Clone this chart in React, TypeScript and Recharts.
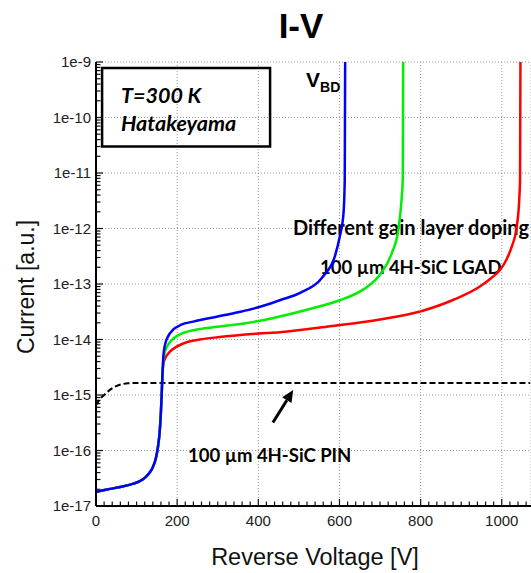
import { CartesianGrid, Line, LineChart, ReferenceArea, ReferenceLine, XAxis, YAxis } from 'recharts';

const W = 531;
const H = 573;

const ARIAL = '"Liberation Sans", Arial, sans-serif';
const CALIBRI = 'Lato, "Open Sans", sans-serif';

// turn-on region, common to the three LGAD curves
const onsetV = [0, 30, 60, 90, 115, 130, 140, 148, 153, 157, 160, 162, 164];
const onsetI = [1.8e-17, 2.0e-17, 2.2e-17, 2.5e-17, 3e-17, 3.8e-17, 5e-17, 7.5e-17, 1.2e-16, 2.2e-16, 5e-16, 1.1e-15, 2.5e-15];

// highest gain layer doping -> lowest breakdown
const blueV = [166, 170, 178, 190, 210, 240, 300, 350, 400, 453, 503, 560, 589, 601, 610, 613, 614];
const blueI = [5e-15, 8e-15, 1.15e-14, 1.5e-14, 1.85e-14, 2.1e-14, 2.6e-14, 3.1e-14, 3.8e-14, 5.1e-14, 6.9e-14, 1.38e-13, 3.2e-13, 7.3e-13, 1.9e-12, 7.6e-12, 1e-9];

const greenV = [166, 170, 180, 195, 220, 256, 300, 400, 453, 536, 601, 659, 700, 729, 745, 753, 756, 757];
const greenI = [4.2e-15, 6e-15, 8.5e-15, 1.1e-14, 1.35e-14, 1.55e-14, 1.7e-14, 2.15e-14, 2.6e-14, 3.7e-14, 5.1e-14, 8e-14, 1.48e-13, 3.6e-13, 9.5e-13, 3.3e-12, 7.6e-12, 1e-9];

const redV = [166, 170, 180, 200, 225, 256, 300, 400, 453, 577, 700, 799, 881, 947, 975, 996, 1012, 1025, 1037, 1043, 1045, 1046];
const redI = [3.6e-15, 4.5e-15, 5.8e-15, 7.5e-15, 9e-15, 1e-14, 1.1e-14, 1.28e-14, 1.35e-14, 1.73e-14, 2.3e-14, 3.2e-14, 5.2e-14, 9.1e-14, 1.3e-13, 1.8e-13, 2.8e-13, 4.8e-13, 1.1e-12, 3.3e-12, 7.6e-12, 1e-9];

// PIN reference diode (no gain layer)
const pinV = [0, 10, 20, 35, 50, 65, 80, 100, 1070];
const pinI = [6.5e-16, 8.5e-16, 1.0e-15, 1.25e-15, 1.45e-15, 1.57e-15, 1.63e-15, 1.65e-15, 1.65e-15];

const X_MAX = 1072;
const xMajor = [0, 200, 400, 600, 800, 1000];
const xMinor: number[] = [];
for (let v = 20; v < X_MAX; v += 20) if (v % 200 !== 0) xMinor.push(v);

const yMajor = [1e-17, 1e-16, 1e-15, 1e-14, 1e-13, 1e-12, 1e-11, 1e-10, 1e-9];
const yMinor: number[] = [];
yMajor.slice(0, -1).forEach((d) => {
  for (let k = 2; k <= 9; k++) yMinor.push(k * d);
});

const zip = (v: number[], i: number[]) => v.map((x, k) => ({ v: x, i: i[k] }));
const withOnset = (v: number[], i: number[]) => zip([...onsetV, ...v], [...onsetI, ...i]);

const blue = withOnset(blueV, blueI);
const green = withOnset(greenV, greenI);
const red = withOnset(redV, redI);
const pin = zip(pinV, pinI);

const expLabel = (v: number) => `1e${Math.round(Math.log10(v))}`;

const TICK = '#111';

// short inward tick drawn from the x axis (bottom) upwards
const xTickMark = (len: number) => (p: any) => {
  const yb = Math.max(p.y1, p.y2);
  return <line x1={p.x1} x2={p.x1} y1={yb} y2={yb - len} stroke={TICK} strokeWidth={1.2} />;
};
// short inward tick drawn from the y axis (left) to the right
const yTickMark = (len: number) => (p: any) => {
  const xl = Math.min(p.x1, p.x2);
  return <line x1={xl} x2={xl + len} y1={p.y1} y2={p.y1} stroke={TICK} strokeWidth={1.2} />;
};

function Arrow(props: any) {
  const { x1, y1, x2, y2 } = props;
  const dx = x2 - x1;
  const dy = y2 - y1;
  const len = Math.hypot(dx, dy);
  const ux = dx / len;
  const uy = dy / len;
  const head = 12;
  const half = 5.5;
  const bx = x2 - ux * head;
  const by = y2 - uy * head;
  return (
    <g>
      <line x1={x1} y1={y1} x2={bx} y2={by} stroke="#000" strokeWidth={3} />
      <polygon
        points={`${x2},${y2} ${bx - uy * half},${by + ux * half} ${bx + uy * half},${by - ux * half}`}
        fill="#000"
      />
    </g>
  );
}

export default function App() {
  return (
    <div style={{ position: 'absolute', left: 0, top: 0, width: W, height: H, background: '#fff' }}>
      <LineChart width={W} height={H} margin={{ top: 62, right: 0, bottom: 0, left: 0 }}>
        <CartesianGrid xAxisId="x" yAxisId="y" stroke="#9a9a9a" strokeDasharray="1 2" />

        <XAxis
          xAxisId="x"
          type="number"
          dataKey="v"
          domain={[0, X_MAX]}
          allowDataOverflow
          ticks={xMajor}
          interval={0}
          height={67}
          tickSize={0}
          tickMargin={9}
          axisLine={{ stroke: '#000', strokeWidth: 2 }}
          tick={{ fill: '#222', fontSize: 15, fontFamily: ARIAL }}
        />
        <XAxis xAxisId="top" orientation="top" type="number" domain={[0, X_MAX]} height={0}
          tick={false} tickLine={false} axisLine={{ stroke: '#000', strokeWidth: 2 }} />

        <YAxis
          yAxisId="y"
          scale="log"
          domain={[1e-17, 1e-9]}
          allowDataOverflow
          ticks={yMajor}
          interval={0}
          tickFormatter={expLabel}
          width={96}
          tickSize={0}
          tickMargin={5}
          axisLine={{ stroke: '#000', strokeWidth: 2 }}
          tick={{ fill: '#222', fontSize: 15, fontFamily: ARIAL }}
        />

        {xMajor.map((v) => (
          <ReferenceLine key={`xM${v}`} xAxisId="x" yAxisId="y" x={v} shape={xTickMark(7)} ifOverflow="visible" />
        ))}
        {xMinor.map((v) => (
          <ReferenceLine key={`xm${v}`} xAxisId="x" yAxisId="y" x={v} shape={xTickMark(4.5)} ifOverflow="visible" />
        ))}
        {yMajor.map((v) => (
          <ReferenceLine key={`yM${v}`} xAxisId="x" yAxisId="y" y={v} shape={yTickMark(7)} ifOverflow="visible" />
        ))}
        {yMinor.map((v) => (
          <ReferenceLine key={`ym${v}`} xAxisId="x" yAxisId="y" y={v} shape={yTickMark(4.5)} ifOverflow="visible" />
        ))}

        <Line xAxisId="x" yAxisId="y" data={pin} dataKey="i" type="monotone" stroke="#000"
          strokeWidth={2} strokeDasharray="6 3" dot={false} isAnimationActive={false} />
        <Line xAxisId="x" yAxisId="y" data={red} dataKey="i" type="monotone" stroke="#ff0000"
          strokeWidth={2.5} dot={false} isAnimationActive={false} />
        <Line xAxisId="x" yAxisId="y" data={green} dataKey="i" type="monotone" stroke="#00ee00"
          strokeWidth={2.5} dot={false} isAnimationActive={false} />
        <Line xAxisId="x" yAxisId="y" data={blue} dataKey="i" type="monotone" stroke="#0000ff"
          strokeWidth={2.5} dot={false} isAnimationActive={false} />

        {/* frame for temperature / model note */}
        <ReferenceArea xAxisId="x" yAxisId="y" x1={15} x2={429} y1={3e-11} y2={7.8e-10}
          fill="none" stroke="#000" strokeWidth={2.5} ifOverflow="visible" />

        <ReferenceLine
          xAxisId="x"
          yAxisId="y"
          segment={[{ x: 436, y: 3.2e-16 }, { x: 486, y: 1.23e-15 }]}
          shape={Arrow}
          ifOverflow="visible"
        />

        <text x={301} y={38} textAnchor="middle" fontFamily={ARIAL} fontWeight="bold" fontSize={35} fill="#000">
          I-V
        </text>
        <text x={34} y={287} transform="rotate(-90 34 287)" textAnchor="middle" fontFamily={ARIAL} fontSize={23} fill="#111">
          Current [a.u.]
        </text>
        <text x={315} y={565} textAnchor="middle" fontFamily={ARIAL} fontSize={23.5} fill="#111">
          Reverse Voltage [V]
        </text>

        <g fontFamily={CALIBRI} fontWeight="bold" fontStyle="italic" fontSize={21.5} fill="#000">
          <text x={121} y={103}>T=300 K</text>
          <text x={121} y={131}>Hatakeyama</text>
        </g>

        <text x={306} y={87} fontFamily={ARIAL} fontWeight="bold" fontSize={21} fill="#000">
          V<tspan fontSize={14} dy={5}>BD</tspan>
        </text>

        <g fontFamily={CALIBRI} fontWeight="bold" fill="#000">
          <text x={293} y={235} fontSize={20}>Different gain layer doping</text>
          <text x={320} y={274} fontSize={18.5}>100 µm 4H-SiC LGAD</text>
          <text x={188} y={462} fontSize={18.5}>100 µm 4H-SiC PIN</text>
        </g>
      </LineChart>
    </div>
  );
}
